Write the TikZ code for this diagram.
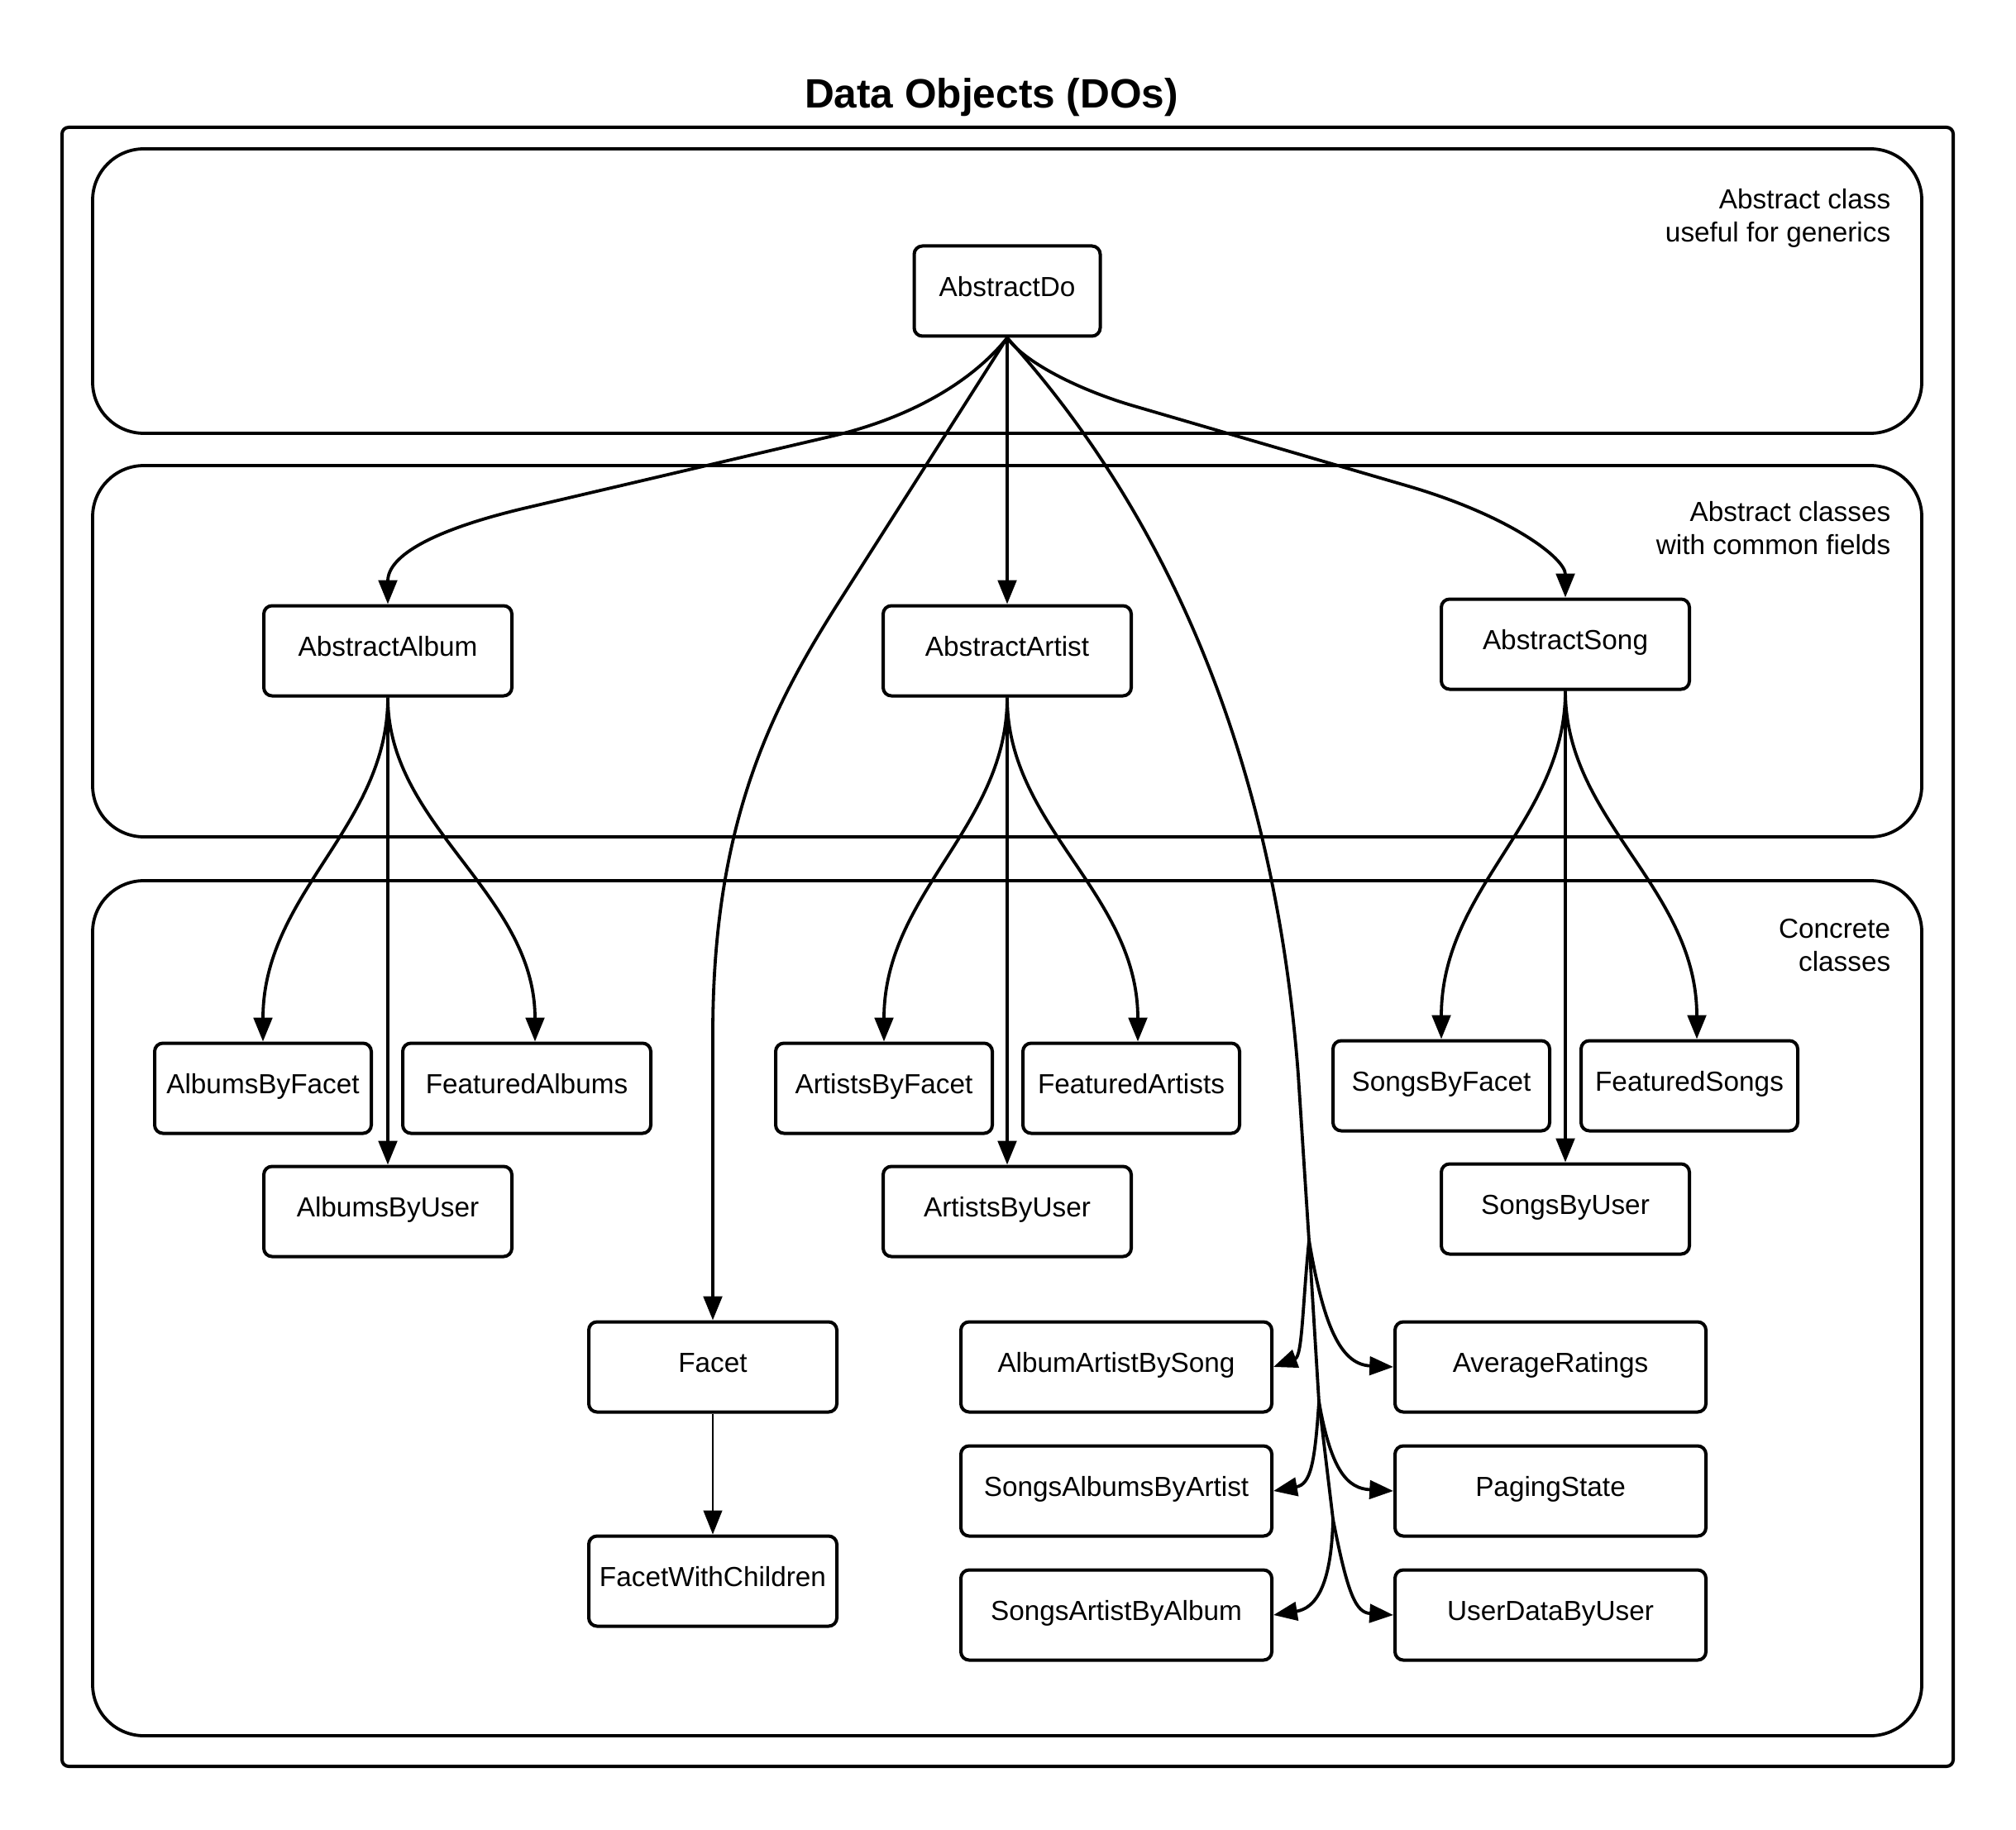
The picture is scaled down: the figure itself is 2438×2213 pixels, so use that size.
\documentclass[tikz,border=0pt]{standalone}
\usepackage{fontspec}
\setmainfont{Liberation Sans}
\usetikzlibrary{arrows.meta}
\begin{document}
\begin{tikzpicture}[x=0.25pt,y=-0.25pt,
  font=\fontsize{8.33pt}{10pt}\selectfont,
  box/.style={draw, line width=1pt, rounded corners=2.5pt, fill=white,
    minimum height=27.25pt, inner sep=0pt, text height=6.25pt, text depth=2.8pt},
  wA/.style={box, minimum width=75pt},
  wB/.style={box, minimum width=65.5pt},
  wC/.style={box, minimum width=94pt},
  wD/.style={box, minimum width=56.25pt},
  lane/.style={draw, line width=0.95pt, rounded corners=15.5pt},
  lbl/.style={align=right, inner sep=0pt, anchor=east},
  arr/.style={line width=0.95pt, -{Triangle[length=7.2pt,width=5.6pt]}},
  trunk/.style={line width=0.95pt}
]
\path[use as bounding box] (0,0) rectangle (2438,2213);

% title
\node[font=\fontsize{12.4pt}{15pt}\selectfont\bfseries] (title) at (1199,118) {Data Objects (DOs)};

% frame and lanes
\draw[line width=1pt, rounded corners=2pt] (75,154) rectangle (2362,2136);
\draw[lane] (112,180) rectangle (2324,524);
\draw[lane] (112,563) rectangle (2324,1012);
\draw[lane] (112,1065) rectangle (2324,2099);

\node[lbl] (lab1) at (2287,264) {Abstract class\\useful for generics};
\node[lbl] (lab2) at (2287,639) {Abstract classes\\with common fields};
\node[lbl] (lab3) at (2287,1143) {Concrete\\classes};

% nodes
\node[wD] (ado) at (1218,352) {AbstractDo};
\node[wA] (aalb) at (469,787) {AbstractAlbum};
\node[wA] (aart) at (1218,787) {AbstractArtist};
\node[wA] (asong) at (1893,779) {AbstractSong};

\node[wB] (abf) at (318,1316) {AlbumsByFacet};
\node[wA] (fal) at (637,1316) {FeaturedAlbums};
\node[wA] (abu) at (469,1465) {AlbumsByUser};

\node[wB] (arbf) at (1069,1316) {ArtistsByFacet};
\node[wB] (far) at (1368,1316) {FeaturedArtists};
\node[wA] (arbu) at (1218,1465) {ArtistsByUser};

\node[wB] (sbf) at (1743,1313) {SongsByFacet};
\node[wB] (fs) at (2043,1313) {FeaturedSongs};
\node[wA] (sbu) at (1893,1462) {SongsByUser};

\node[wA] (facet) at (862,1653) {Facet};
\node[wA] (fwc) at (862,1912) {FacetWithChildren};

\node[wC] (aabs) at (1350,1653) {AlbumArtistBySong};
\node[wC] (saba) at (1350,1803) {SongsAlbumsByArtist};
\node[wC] (sarba) at (1350,1953) {SongsArtistByAlbum};
\node[wC] (ar) at (1875,1653) {AverageRatings};
\node[wC] (ps) at (1875,1803) {PagingState};
\node[wC] (udu) at (1875,1953) {UserDataByUser};

% connectors from AbstractDo
\draw[arr] (ado.south) .. controls (1178,459) and (1105,504) .. (1008,527)
  -- (641,613) .. controls (524,640) and (469,672) .. (aalb.north);
\draw[arr] (ado.south) -- (1010,735) .. controls (930,862) and (862,1000) .. (862,1250) -- (facet.north);
\draw[arr] (ado.south) -- (aart.north);
\draw[arr] (ado.south) .. controls (1238,437) and (1301,470) .. (1368,490)
  -- (1700,587) .. controls (1825,623) and (1893,675) .. (asong.north);

\coordinate (s1) at (1583,1500);
\coordinate (s2) at (1595,1695);
\coordinate (s3) at (1612,1837);
\draw[trunk] (ado.south) .. controls (1400,610) and (1540,900) .. (1570,1300) -- (s1) -- (s2) -- (s3);
\draw[arr] (s1) .. controls (1575,1580) and (1575,1640) .. (aabs.east);
\draw[arr] (s1) .. controls (1600,1600) and (1620,1650) .. (ar.west);
\draw[arr] (s2) .. controls (1590,1770) and (1585,1795) .. (saba.east);
\draw[arr] (s2) .. controls (1610,1780) and (1630,1800) .. (ps.west);
\draw[arr] (s3) .. controls (1610,1920) and (1590,1945) .. (sarba.east);
\draw[arr] (s3) .. controls (1630,1930) and (1640,1950) .. (udu.west);

% album children
\draw[arr] (aalb.south) .. controls (469,1000) and (318,1080) .. (abf.north);
\draw[arr] (aalb.south) .. controls (469,1000) and (647,1080) .. ([xshift=2.5pt]fal.north);
\draw[arr] (aalb.south) -- (abu.north);

% artist children
\draw[arr] (aart.south) .. controls (1218,1000) and (1069,1080) .. (arbf.north);
\draw[arr] (aart.south) .. controls (1218,1000) and (1376,1080) .. ([xshift=2pt]far.north);
\draw[arr] (aart.south) -- (arbu.north);

% song children
\draw[arr] (asong.south) .. controls (1893,993) and (1743,1073) .. (sbf.north);
\draw[arr] (asong.south) .. controls (1893,993) and (2052,1073) .. ([xshift=2.25pt]fs.north);
\draw[arr] (asong.south) -- (sbu.north);

% facet
\draw[line width=0.65pt, -{Triangle[length=7.2pt,width=5.6pt]}] (facet.south) -- (fwc.north);
\end{tikzpicture}
\end{document}
